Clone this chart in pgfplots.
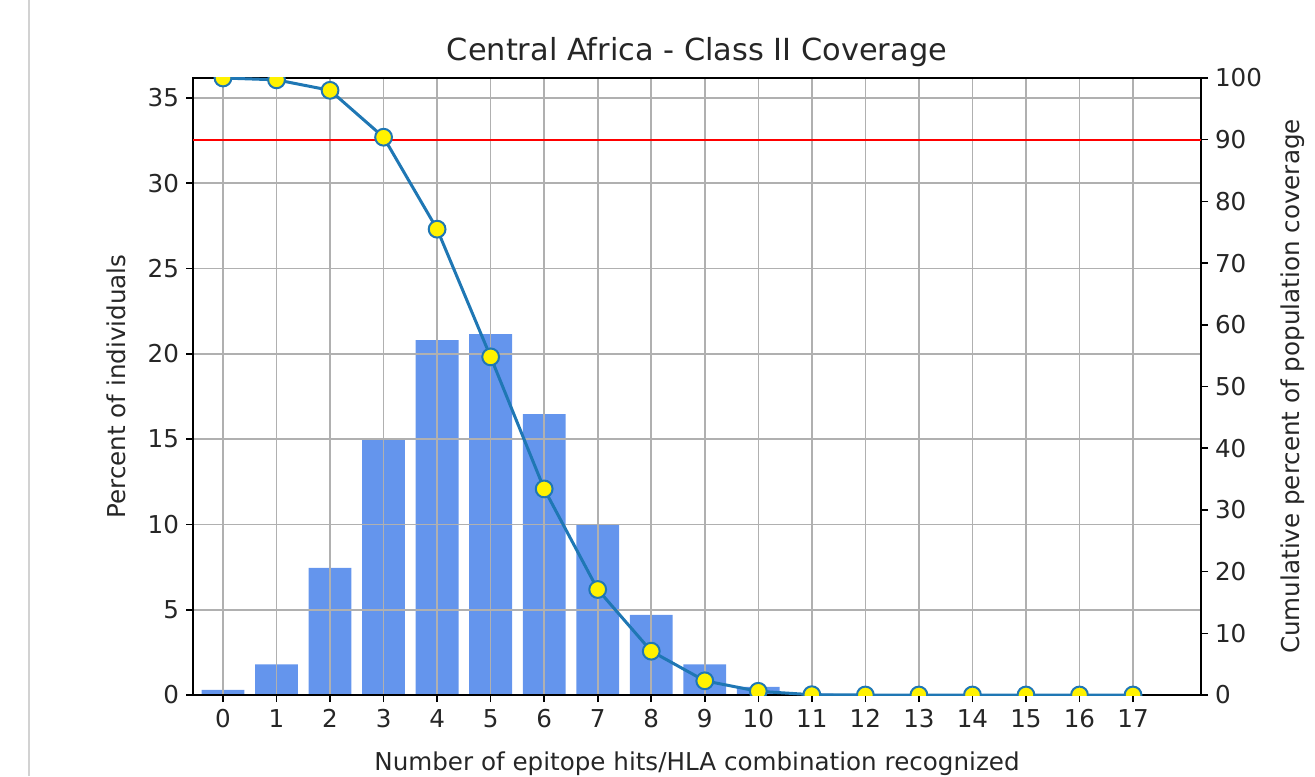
\documentclass[border=0pt]{standalone}
\usepackage{fontspec}
\setmainfont{DejaVu Sans}
\usepackage{pgfplots}
\pgfplotsset{compat=1.18}
\definecolor{barblue}{HTML}{6495ED}
\definecolor{lineblue}{HTML}{1F77B4}
\definecolor{gridgray}{HTML}{B0B0B0}

\begin{document}
\begin{tikzpicture}
\path[use as bounding box] (0,0) rectangle (657.5pt,388pt);
\draw[gray!35, line width=1pt] (14.5pt,0) -- (14.5pt,388pt);
\pgfplotsset{
  every axis/.style={
    at={(96.5pt,40.5pt)}, anchor=south west,
    scale only axis, width=504pt, height=308.5pt,
    xmin=-0.56, xmax=18.27,
    tick align=outside, major tick length=3.5pt,
    tick style={black, line width=0.8pt},
    axis line style={line width=0.9pt},
    tick label style={font=\fontsize{12.3}{14}\selectfont, text=black!85},
    label style={font=\fontsize{12.3}{14}\selectfont, text=black!85},
    /pgf/number format/assume math mode=true,
  }
}
\begin{axis}[
  ymin=0, ymax=36.17,
  xtick={0,...,17}, ytick={0,5,...,35},
  xtick pos=bottom, ytick pos=left,
  grid=major, grid style={gridgray, line width=0.8pt},
  axis on top,
  title={Central Africa - Class II Coverage},
  title style={font=\fontsize{15.2}{17}\selectfont, text=black!85, at={(0.5,1)}, yshift=-4pt},
  xlabel={Number of epitope hits/HLA combination recognized},
  ylabel={Percent of individuals},
  xlabel style={yshift=-5pt},
  ylabel style={yshift=4pt},
]
\addplot[ybar, bar width=0.8, fill=barblue, draw=none] coordinates {
  (0,0.30) (1,1.80) (2,7.45) (3,15.00) (4,20.80) (5,21.15) (6,16.47)
  (7,9.96) (8,4.69) (9,1.80) (10,0.47) (11,0.08) (12,0) (13,0)
  (14,0) (15,0) (16,0) (17,0)
};
\end{axis}
\begin{axis}[
  ymin=0, ymax=100,
  axis x line=none, axis y line*=right,
  ytick={0,10,...,100},
  ylabel={Cumulative percent of population coverage},
  ylabel style={yshift=-2.5pt},
  clip marker paths=true,
]
\addplot[red, line width=1pt, forget plot] coordinates {(-0.56,90) (18.27,90)};
\addplot[lineblue, line width=1.5pt, mark=*, mark size=4.2pt,
  mark options={fill=yellow, draw=lineblue, line width=1pt}] coordinates {
  (0,100) (1,99.7) (2,98.0) (3,90.4) (4,75.5) (5,54.8) (6,33.4)
  (7,17.1) (8,7.1) (9,2.3) (10,0.6) (11,0.05) (12,0) (13,0)
  (14,0) (15,0) (16,0) (17,0)
};
\end{axis}
\end{tikzpicture}
\end{document}
